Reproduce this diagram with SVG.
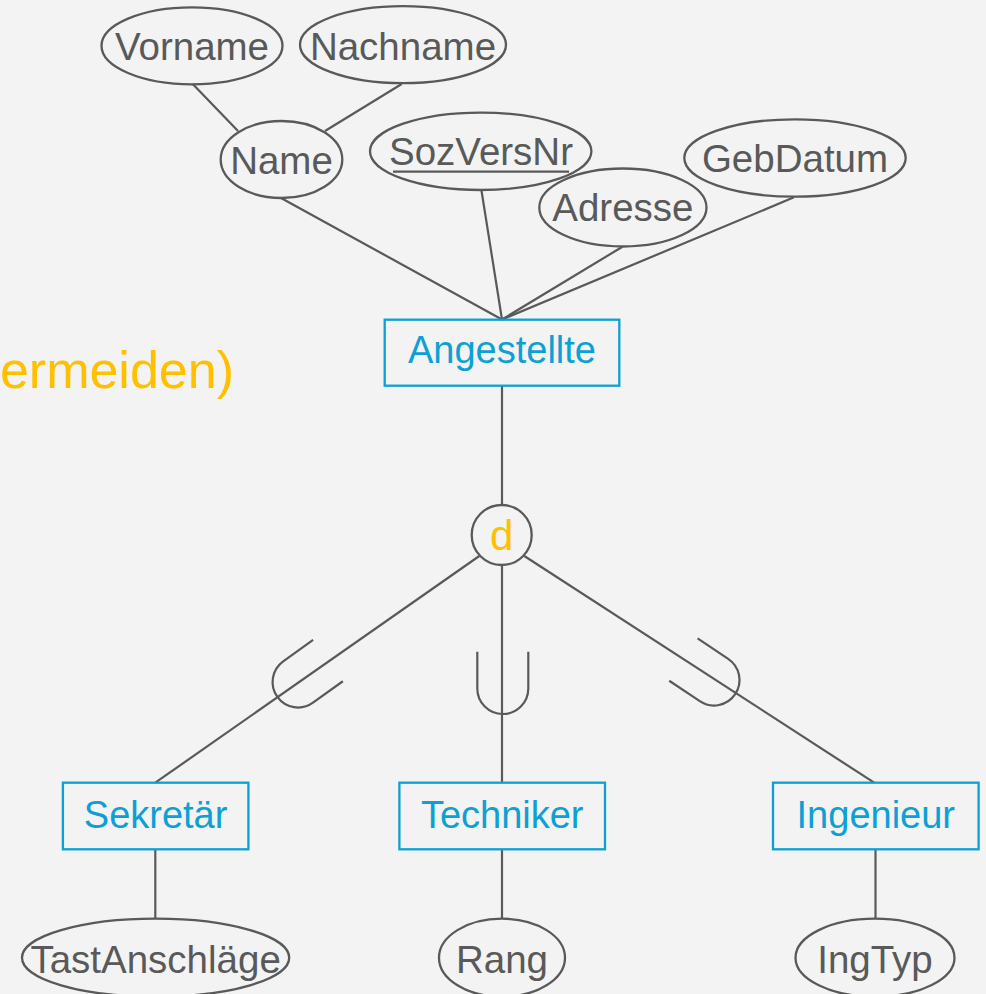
<svg xmlns="http://www.w3.org/2000/svg" width="986" height="994" viewBox="0 0 986 994">
<style>
.attr{fill:none;stroke:#595959;stroke-width:2.3}
.ent{fill:none;stroke:#0CA0D4;stroke-width:2.3}
.t{font-family:"Liberation Sans",Arial,sans-serif;font-size:38.5px;fill:#595959;text-anchor:middle}
.te{font-family:"Liberation Sans",Arial,sans-serif;font-size:38px;fill:#0CA0D4;text-anchor:middle}
.ln{stroke:#595959;stroke-width:2.2;fill:none}
</style>
<rect width="986" height="994" fill="#F3F3F3"/>
<text x="234" y="388" font-family="Liberation Sans, Arial, sans-serif" font-size="52" fill="#FFC000" text-anchor="end">ermeiden)</text>
<g id="connectors">
<line class="ln" x1="192.7" y1="84" x2="238" y2="131"/>
<line class="ln" x1="401.7" y1="84" x2="325" y2="131"/>
<line class="ln" x1="281" y1="198" x2="502" y2="319.5"/>
<line class="ln" x1="481.4" y1="190" x2="502" y2="319.5"/>
<line class="ln" x1="622.5" y1="246.7" x2="502" y2="319.5"/>
<line class="ln" x1="794" y1="197.3" x2="502" y2="319.5"/>
<line class="ln" x1="502" y1="385.7" x2="502" y2="505"/>
<line class="ln" x1="479.3" y1="556" x2="155.3" y2="782.7"/>
<line class="ln" x1="502" y1="565" x2="502" y2="782.7"/>
<line class="ln" x1="524.3" y1="556" x2="874.2" y2="782.7"/>
<line class="ln" x1="155.3" y1="849.3" x2="155.3" y2="918.7"/>
<line class="ln" x1="502" y1="849.3" x2="502" y2="918.7"/>
<line class="ln" x1="875.5" y1="849.3" x2="875.5" y2="918.7"/>
<path class="ln" transform="translate(298.1,682) rotate(54.3)" d="M-25.5,-36.8 V0 A25.5,25.5 0 0 0 25.5,0 V-36.8"/>
<path class="ln" transform="translate(502.8,688.5)" d="M-25.5,-36.8 V0 A25.5,25.5 0 0 0 25.5,0 V-36.8"/>
<path class="ln" transform="translate(714,680) rotate(-56.2)" d="M-25.5,-36.8 V0 A25.5,25.5 0 0 0 25.5,0 V-36.8"/>
</g>
<g id="vorname"><ellipse class="attr" cx="192" cy="45.8" rx="90.5" ry="38.5"/><text class="t" x="192" y="60">Vorname</text></g>
<g id="nachname"><ellipse class="attr" cx="403" cy="44.7" rx="103" ry="38.5"/><text class="t" x="403" y="60">Nachname</text></g>
<g id="name"><ellipse class="attr" cx="281.5" cy="159.5" rx="60.8" ry="38.5"/><text class="t" x="281.5" y="174">Name</text></g>
<g id="sozversnr"><ellipse class="attr" cx="480.7" cy="151.3" rx="110.7" ry="38.7"/><text class="t" x="481" y="165">SozVersNr</text><line class="ln" x1="393" y1="171.7" x2="569" y2="171.7"/></g>
<g id="adresse"><ellipse class="attr" cx="622.9" cy="207.5" rx="83.6" ry="39"/><text class="t" x="622.9" y="221">Adresse</text></g>
<g id="gebdatum"><ellipse class="attr" cx="795" cy="158" rx="110.7" ry="38.7"/><text class="t" x="795" y="171.7">GebDatum</text></g>
<g id="angestellte"><rect class="ent" x="384.7" y="319.7" width="234.6" height="66"/><text class="te" x="502" y="363">Angestellte</text></g>
<g id="d"><circle class="attr" cx="501.7" cy="535" r="30"/><text x="501.7" y="550" font-family="Liberation Sans, Arial, sans-serif" font-size="42" fill="#FFC000" text-anchor="middle">d</text></g>
<g id="sekretaer"><rect class="ent" x="62.9" y="782.7" width="185.5" height="66.6"/><text class="te" x="155.6" y="828.3">Sekretär</text></g>
<g id="techniker"><rect class="ent" x="399.4" y="782.7" width="205.6" height="66.6"/><text class="te" x="502.2" y="828.3">Techniker</text></g>
<g id="ingenieur"><rect class="ent" x="773" y="782.7" width="205.6" height="66.6"/><text class="te" x="875.8" y="828.3">Ingenieur</text></g>
<g id="tastanschlaege"><ellipse class="attr" cx="155.6" cy="957.7" rx="133.6" ry="39"/><text class="t" x="155.6" y="973.3">TastAnschläge</text></g>
<g id="rang"><ellipse class="attr" cx="502" cy="957.7" rx="63" ry="39"/><text class="t" x="502" y="973.3">Rang</text></g>
<g id="ingtyp"><ellipse class="attr" cx="875" cy="957.7" rx="79.5" ry="39"/><text class="t" x="875" y="973.3">IngTyp</text></g>
</svg>
